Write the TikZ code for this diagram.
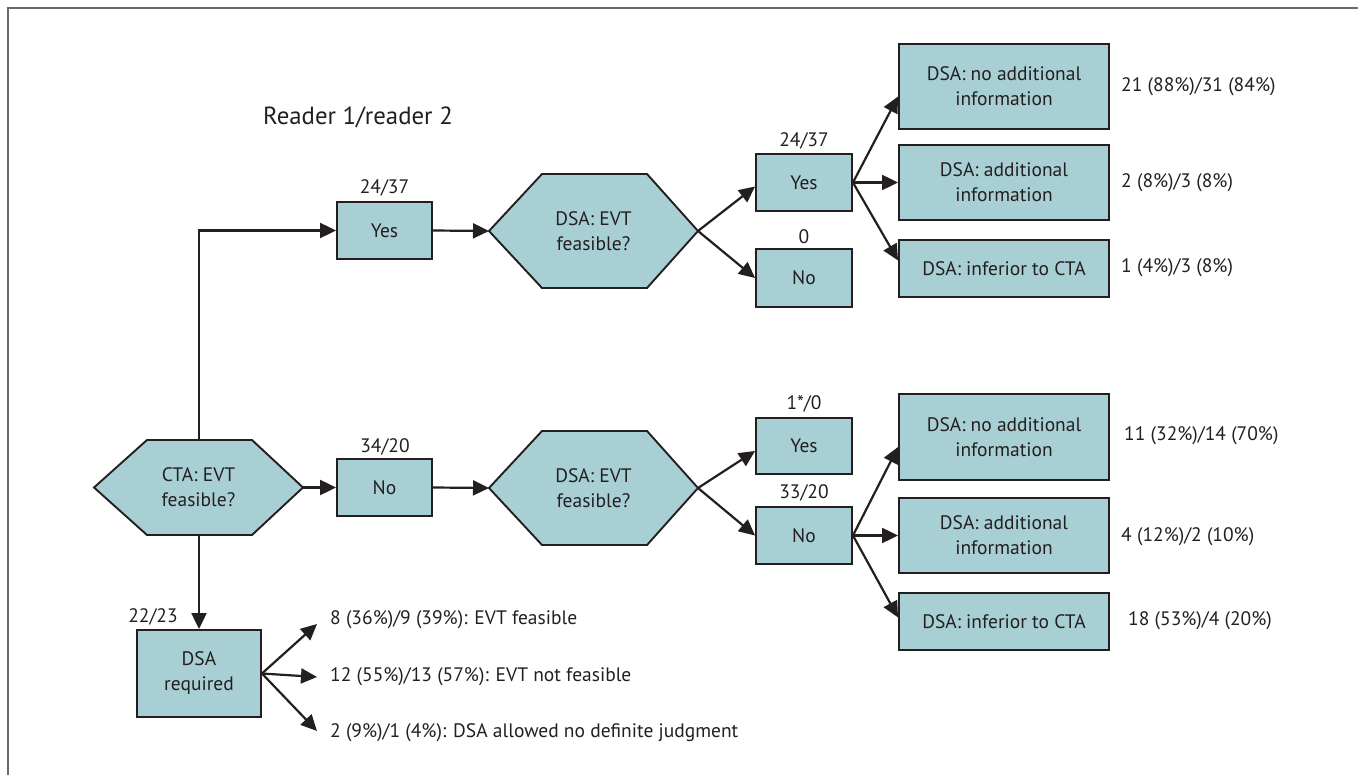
\documentclass[tikz,border=0pt]{standalone}
\usepackage{fontspec}
\setmainfont{PT Sans}
\usetikzlibrary{arrows.meta}
\definecolor{boxfill}{HTML}{A8D0D4}
\definecolor{ink}{HTML}{231F20}
\definecolor{frame}{HTML}{6A6A6A}
\tikzset{
  every node/.style={text=ink, font=\fontsize{19.5}{25}\selectfont},
  box/.style={draw=ink, fill=boxfill, line width=1.9pt, align=center, inner sep=0pt},
  hex/.style={draw=ink, fill=boxfill, line width=1.9pt},
  arr/.style={draw=ink, line width=2.2pt, -{Triangle[length=16pt,width=15pt]}},
  lbl/.style={inner sep=0pt},
  res/.style={inner sep=0pt, anchor=west},
}
\begin{document}
\begin{tikzpicture}[x=1pt,y=-1pt]
\useasboundingbox (0,0) rectangle (1358,775);
% frame
\draw[frame, line width=2pt] (8,775) -- (8,8) -- (1358,8);

\node[lbl, anchor=west, font=\fontsize{24.8}{26}\selectfont] (title) at (263,117) {Reader 1/reader 2};

% hexagons
\path[hex] (94,487.5) -- (147,440) -- (252,440) -- (303,487.5) -- (252,535) -- (147,535) -- cycle;
\node[lbl, align=center] (cta) at (198.5,487.5) {CTA: EVT\\feasible?};
\coordinate (ctaN) at (199,440);
\coordinate (ctaS) at (199,535);
\coordinate (ctaE) at (303,487.5);

\path[hex] (489,231) -- (542,174) -- (647,174) -- (698,231) -- (647,288) -- (542,288) -- cycle;
\node[lbl, align=center] (dsa1) at (593.5,231) {DSA: EVT\\feasible?};
\coordinate (dsa1W) at (489,231);
\coordinate (dsa1E) at (698,231);

\path[hex] (489,488) -- (542,431) -- (647,431) -- (698,488) -- (647,545) -- (542,545) -- cycle;
\node[lbl, align=center] (dsa2) at (593.5,488) {DSA: EVT\\feasible?};
\coordinate (dsa2W) at (489,488);
\coordinate (dsa2E) at (698,488);

% boxes
\node[box, minimum width=95pt, minimum height=57pt] (yes1) at (384.5,230.5) {Yes};
\node[box, minimum width=95pt, minimum height=57pt] (no1) at (384.5,487.5) {No};
\node[box, minimum width=96pt, minimum height=57pt] (yes2) at (804,182.5) {Yes};
\node[box, minimum width=96pt, minimum height=58pt] (no2) at (804,278) {No};
\node[box, minimum width=96pt, minimum height=56pt] (yes3) at (804,446) {Yes};
\node[box, minimum width=96pt, minimum height=57pt] (no3) at (804,535.5) {No};

\node[box, minimum width=210pt, minimum height=85pt] (r1) at (1004,86.5) {DSA: no additional\\information};
\node[box, minimum width=210pt, minimum height=75pt] (r2) at (1004,182.5) {DSA: additional\\information};
\node[box, minimum width=210pt, minimum height=57pt] (r3) at (1004,268.5) {DSA: inferior to CTA};
\node[box, minimum width=210pt, minimum height=86pt] (r4) at (1004,437) {DSA: no additional\\information};
\node[box, minimum width=210pt, minimum height=75pt] (r5) at (1004,535.5) {DSA: additional\\information};
\node[box, minimum width=210pt, minimum height=57pt] (r6) at (1004,621.5) {DSA: inferior to CTA};

\node[box, minimum width=124pt, minimum height=87pt] (req) at (199,673.5) {DSA\\required};

% labels above boxes
\node[lbl] (l1) at (384.5,188) {24/37};
\node[lbl] (l2) at (385,447) {34/20};
\node[lbl] (l3) at (804,141) {24/37};
\node[lbl] (l4) at (804,237) {0};
\node[lbl] (l5) at (804,404) {1*/0};
\node[lbl] (l6) at (804,493) {33/20};
\node[lbl] (l7) at (153,617) {22/23};

% result labels
\node[res] (v1) at (1121,87) {21 (88\%)/31 (84\%)};
\node[res] (v2) at (1121,183) {2 (8\%)/3 (8\%)};
\node[res] (v3) at (1121,268) {1 (4\%)/3 (8\%)};
\node[res] (v4) at (1124,436) {11 (32\%)/14 (70\%)};
\node[res] (v5) at (1121,537) {4 (12\%)/2 (10\%)};
\node[res] (v6) at (1128,621) {18 (53\%)/4 (20\%)};

\node[res] (t1) at (330,620) {8 (36\%)/9 (39\%): EVT feasible};
\node[res] (t2) at (330,677) {12 (55\%)/13 (57\%): EVT not feasible};
\node[res] (t3) at (330,733) {2 (9\%)/1 (4\%): DSA allowed no definite judgment};

% connectors
\draw[arr] (ctaN) |- (yes1.west);
\draw[arr] (ctaE) -- (no1.west);
\draw[arr] (ctaS) -- (req.north);
\draw[arr] (yes1.east) -- (dsa1W);
\draw[arr] (no1.east) -- (dsa2W);
\draw[arr] (dsa1E) -- ([yshift=-4pt]yes2.west);
\draw[arr] (dsa1E) -- (no2.west);
\draw[arr] (dsa2E) -- ([yshift=-5pt]yes3.west);
\draw[arr] (dsa2E) -- (no3.west);
\draw[arr] (yes2.east) -- ([yshift=-10pt]r1.west);
\draw[arr] (yes2.east) -- (r2.west);
\draw[arr] (yes2.east) -- ([yshift=8pt]r3.west);
\draw[arr] (no3.east) -- ([yshift=-10pt]r4.west);
\draw[arr] (no3.east) -- (r5.west);
\draw[arr] (no3.east) -- ([yshift=4pt]r6.west);
\draw[arr] (req.east) -- ([xshift=-13pt,yshift=-4pt]t1.west);
\draw[arr] (req.east) -- ([xshift=-13pt]t2.west);
\draw[arr] (req.east) -- ([xshift=-13pt,yshift=2pt]t3.west);
\end{tikzpicture}
\end{document}
